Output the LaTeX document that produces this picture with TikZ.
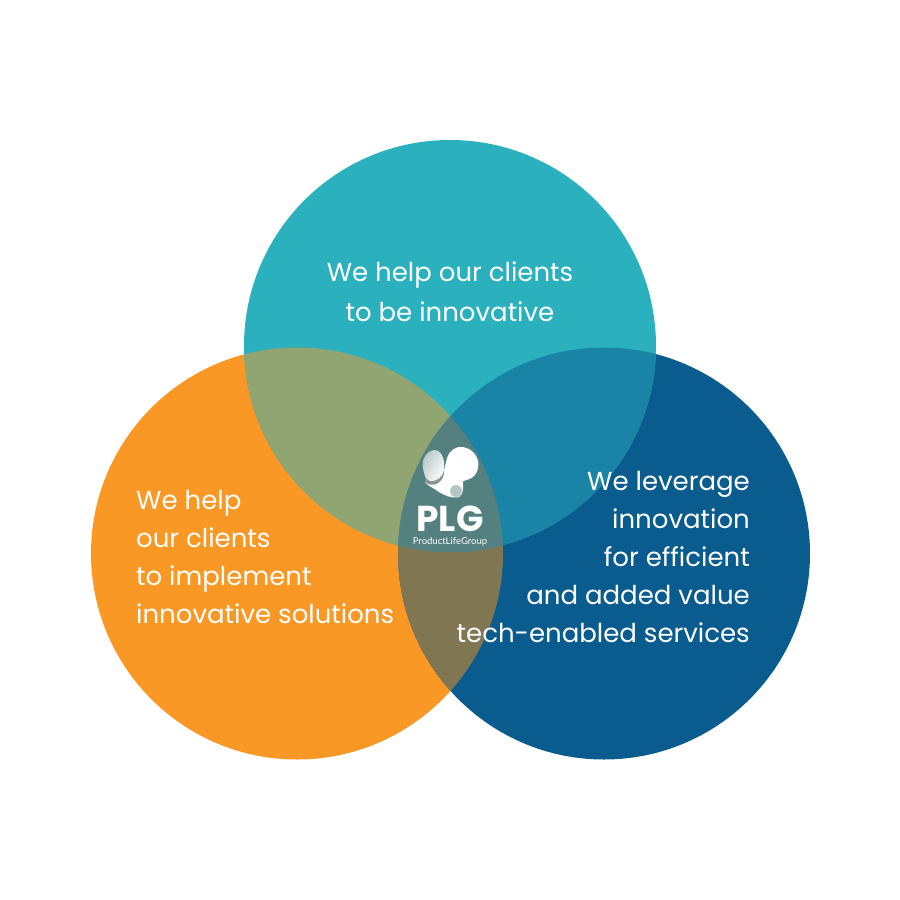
\documentclass[tikz,border=0pt]{standalone}
\usepackage{fontspec}
\setmainfont{Poppins}
\newfontfamily\logofont{Lato}
\definecolor{teal0}{HTML}{2AB1BD}
\definecolor{orange0}{HTML}{FA9825}
\definecolor{blue0}{HTML}{0A5C8F}
\definecolor{tealorange}{HTML}{90A571}
\definecolor{tealblue}{HTML}{1A84A7}
\definecolor{orangeblue}{HTML}{807652}
\definecolor{centre0}{HTML}{54807F}
\definecolor{lobegrey}{HTML}{B5C6C6}
\tikzset{
  px/.style={x=1pt,y=-1pt},
  label0/.style={text=white,font=\fontsize{26}{38}\selectfont,inner sep=0pt},
}
\def\circT{(450,346) circle (206)}
\def\circL{(297,553.5) circle (206)}
\def\circR{(604,553.5) circle (206)}
\begin{document}
\begin{tikzpicture}[px]
\useasboundingbox (0,0) rectangle (900,900);
\fill[white] (0,0) rectangle (900,900);
\fill[orange0] \circL;
\fill[blue0] \circR;
\begin{scope}\clip \circL; \fill[orangeblue] \circR; \end{scope}
\fill[teal0] \circT;
\begin{scope}\clip \circT; \fill[tealorange] \circL; \end{scope}
\begin{scope}\clip \circT; \fill[tealblue] \circR; \end{scope}
\begin{scope}\clip \circT; \clip \circL; \fill[centre0] \circR; \end{scope}
% logo
\fill[white] (447,458) .. controls (450,450) and (456,446) .. (463,447)
  .. controls (474,449) and (480,459) .. (478,468)
  .. controls (476,478) and (468,480) .. (463,481)
  .. controls (463,488) and (464,494) .. (459,497)
  .. controls (452,499) and (443,495) .. (436,490)
  .. controls (431,487) and (427,485) .. (425,482)
  -- (443,475) -- cycle;
\fill[lobegrey!75!black] (425,482) .. controls (432,488) and (442,484) .. (444,474)
  -- (443,470) -- (425,476) -- cycle;
\shade[left color=lobegrey,right color=white,shading angle=60] (423,468) .. controls (421,458) and (428,450) .. (435,450)
  .. controls (443,451) and (445,462) .. (444,470)
  .. controls (443,477) and (436,482) .. (430,481)
  .. controls (425,479) and (424,474) .. (423,468) -- cycle;
\fill[lobegrey] (456,491) circle (6);
\node[text=white,inner sep=0pt,font=\fontsize{36}{36}\selectfont\bfseries] (plg) at (450,519) {PLG};
\node[text=white,inner sep=0pt,font=\logofont\fontsize{9.5}{9.5}\selectfont] (sub) at (450,541.5) {ProductLifeGroup};
% texts
\node[label0,font=\fontsize{26}{40}\selectfont,align=center] (top) at (450,292) {We help our clients\\to be innovative};
\node[label0,align=left,anchor=west] (left) at (136,557) {We help\\our clients\\to implement\\innovative solutions};
\node[label0,align=right,anchor=east] (right) at (750,557) {We leverage\\innovation\\for efficient\\and added value\\tech-enabled services};
\end{tikzpicture}
\end{document}
